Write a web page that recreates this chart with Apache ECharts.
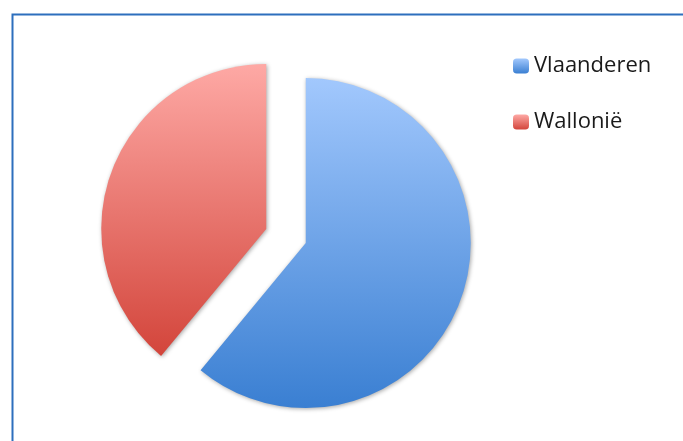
<!DOCTYPE html>
<html>
<head>
<meta charset="utf-8">
<script src="https://cdn.jsdelivr.net/npm/echarts@6/dist/echarts.min.js"></script>
<style>html,body{margin:0;padding:0;background:#fff}#c{width:683px;height:441px}</style>
</head>
<body>
<div id="c"></div>
<script>
const categories = ["Vlaanderen", "Wallonië"];
const values = [61, 39];
const topColors = ["#a2c8fd", "#fea9a5"];
const bottomColors = ["#3a7fd2", "#d3453b"];

const chart = echarts.init(document.getElementById('c'), null, {renderer: 'canvas'});
const grad = (i) => new echarts.graphic.LinearGradient(0, 0, 0, 1, [
  {offset: 0, color: topColors[i]}, {offset: 1, color: bottomColors[i]}
]);
chart.setOption({
  animation: false,
  backgroundColor: '#ffffff',
  graphic: [{
    type: 'rect', left: 10, top: 12,
    shape: {width: 720, height: 480},
    style: {fill: 'none', stroke: '#2d6fbd', lineWidth: 2}
  }],
  legend: {
    orient: 'vertical',
    left: 508, top: 50,
    itemWidth: 16, itemHeight: 15, itemGap: 34,
    textStyle: {fontFamily: 'Open Sans', fontSize: 22, color: '#1a1a1a', padding: [0, 0, 0, 0]},
    data: categories
  },
  series: [{
    type: 'pie',
    radius: 165,
    center: [286, 236],
    startAngle: 90,
    clockwise: true,
    selectedMode: 'multiple',
    selectedOffset: 21,
    label: {show: false},
    labelLine: {show: false},
    emphasis: {disabled: true},
    itemStyle: {shadowBlur: 4, shadowColor: 'rgba(0,0,0,0.35)', shadowOffsetX: 1, shadowOffsetY: 1},
    data: categories.map((n, i) => ({name: n, value: values[i], selected: true, itemStyle: {color: grad(i)}}))
  }]
});
</script>
</body>
</html>
